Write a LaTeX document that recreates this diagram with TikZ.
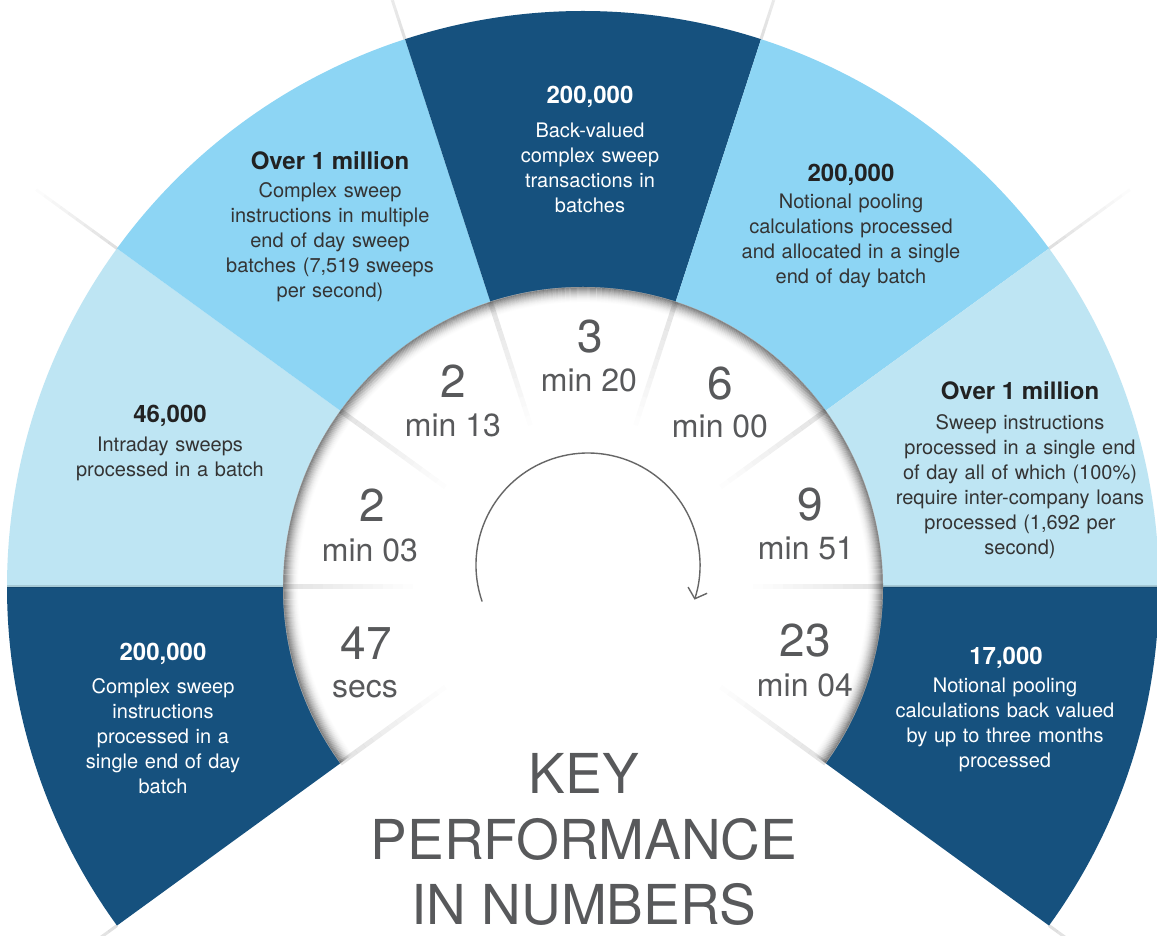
\documentclass[tikz,border=0pt]{standalone}
\usepackage{fontspec}
\setmainfont{TeX Gyre Heros}
\usetikzlibrary{arrows.meta}
\definecolor{navy}{RGB}{22,81,126}
\definecolor{skyb}{RGB}{141,213,244}
\definecolor{paleb}{RGB}{190,229,243}
\definecolor{numgray}{RGB}{88,89,91}
\definecolor{ttldark}{RGB}{34,34,34}
\definecolor{descdark}{RGB}{52,52,52}
\newcommand\fanseg[3]{\fill[#1] (0,0) -- (#2:576) arc[start angle=#2, end angle=#3, radius=576] -- cycle;}
\tikzset{
  desc/.style={anchor=base, text width=340pt, align=center, inner sep=0pt, font=\fontsize{20}{25}\selectfont},
  ttl/.style={anchor=base, inner sep=0pt, font=\bfseries\fontsize{24}{28}\selectfont},
  onlight/.style={text=descdark},
  ttlight/.style={text=ttldark},
  ondark/.style={text=white},
  bignum/.style={anchor=base, inner sep=0pt, text=numgray, font=\fontsize{46}{50}\selectfont},
  unitlbl/.style={anchor=base, inner sep=0pt, text=numgray, font=\fontsize{32}{36}\selectfont},
  headline/.style={anchor=base, inner sep=0pt, text depth=0pt, text=numgray, font=\fontsize{55}{65}\selectfont},
  crease/.style={black, line width=5pt},
  ringshade/.style={black, line width=1.2pt},
  spinarrow/.style={black!60, line width=1.4pt, -{Straight Barb[length=9pt, width=20pt, line width=1.4pt]}}
}
\begin{document}
\begin{tikzpicture}[x=1pt,y=1pt]
\useasboundingbox (0,0) rectangle (1157,935);
\clip (0,0) rectangle (1157,935);
\fill[white] (0,0) rectangle (1157,935);
\coordinate (C) at (583,348);
\begin{scope}[shift={(583,348)}]
  % outer fan
  \fanseg{navy}{180}{216}
  \fanseg{paleb}{144}{180}
  \fanseg{skyb}{108}{144}
  \fanseg{navy}{72}{108}
  \fanseg{skyb}{36}{72}
  \fanseg{paleb}{0}{36}
  \fanseg{navy}{-36}{0}
  % shadow lines between pale and dark
  \draw[black, opacity=0.12, line width=3pt] (180:300) -- (180:576);
  \draw[black, opacity=0.12, line width=3pt] (0:300) -- (0:576);
  % separator extensions beyond the fan
  \foreach \a in {216,144,108,72,36,-36} {
    \foreach \s [evaluate=\s as \op using 0.12*(1-\s/10)] in {0,...,9} {
      \draw[black, opacity=\op, line width=3pt] (\a:{576+10*\s}) -- (\a:{586+10*\s});
    }
  }
  % inner disc
  \fill[white] (0,0) circle (300);
  % inset shadow along the disc rim
  \foreach \i [evaluate=\i as \op using 0.42*(1-\i/16)*(1-\i/16), evaluate=\i as \rr using 299.4-\i] in {0,...,15} {
    \draw[ringshade, opacity=\op] (-36:\rr) arc[start angle=-36, end angle=216, radius=\rr];
  }
  % creases inside the disc
  \foreach \a in {216,180,144,108,72,36,0,-36} {
    \foreach \s [evaluate=\s as \op using 0.11*(1-\s/13)] in {0,...,12} {
      \draw[crease, opacity=\op] (\a:{300-10*\s}) -- (\a:{290-10*\s});
    }
  }
\end{scope}

% segment texts
\node[ttl, ondark] (t1) at (163,274) {200,000};
\node[desc, ondark] (d1) at (163,241) {Complex sweep\\instructions\\processed in a\\single end of day\\batch};
\node[ttl, ttlight] (t2) at (170,512) {46,000};
\node[desc, onlight] (d2) at (170,483) {Intraday sweeps\\processed in a batch};
\node[ttl, ttlight] (t3) at (330,765) {Over 1 million};
\node[desc, onlight] (d3) at (330,737) {Complex sweep\\instructions in multiple\\end of day sweep\\batches (7,519 sweeps\\per second)};
\node[ttl, ondark] (t4) at (590,831) {200,000};
\node[desc, ondark] (d4) at (590,797) {Back-valued\\complex sweep\\transactions in\\batches};
\node[ttl, ttlight] (t5) at (851,753) {200,000};
\node[desc, onlight] (d5) at (851,726) {Notional pooling\\calculations processed\\and allocated in a single\\end of day batch};
\node[ttl, ttlight] (t6) at (1020,535) {Over 1 million};
\node[desc, onlight] (d6) at (1020,505) {Sweep instructions\\processed in a single end\\of day all of which (100\%)\\require inter-company loans\\processed (1,692 per\\second)};
\node[ttl, ondark] (t7) at (1006,270) {17,000};
\node[desc, ondark] (d7) at (1005,242) {Notional pooling\\calculations back valued\\by up to three months\\processed};

% times
\node[bignum] (n1) at (366,275) {47};
\node[unitlbl] (u1) at (365,237) {secs};
\node[bignum] (n2) at (372,413) {2};
\node[unitlbl] (u2) at (370,373) {min 03};
\node[bignum] (n3) at (453,537) {2};
\node[unitlbl] (u3) at (453,498) {min 13};
\node[bignum] (n4) at (590,582) {3};
\node[unitlbl] (u4) at (589,543) {min 20};
\node[bignum] (n5) at (720,535) {6};
\node[unitlbl] (u5) at (720,497) {min 00};
\node[bignum] (n6) at (810,414) {9};
\node[unitlbl] (u6) at (806,375) {min 51};
\node[bignum] (n7) at (805,278) {23};
\node[unitlbl] (u7) at (805,238) {min 04};

% rotation arrow
\coordinate (arcstart) at (482.1,333.5);
\draw[spinarrow] (arcstart) arc[start angle=199, end angle=-18, radius=112];

% headline
\node[headline] (head1) at (584,141) {KEY};
\node[headline] (head2) at (584,76) {PERFORMANCE};
\node[headline] (head3) at (584,11) {IN NUMBERS};
\end{tikzpicture}
\end{document}
